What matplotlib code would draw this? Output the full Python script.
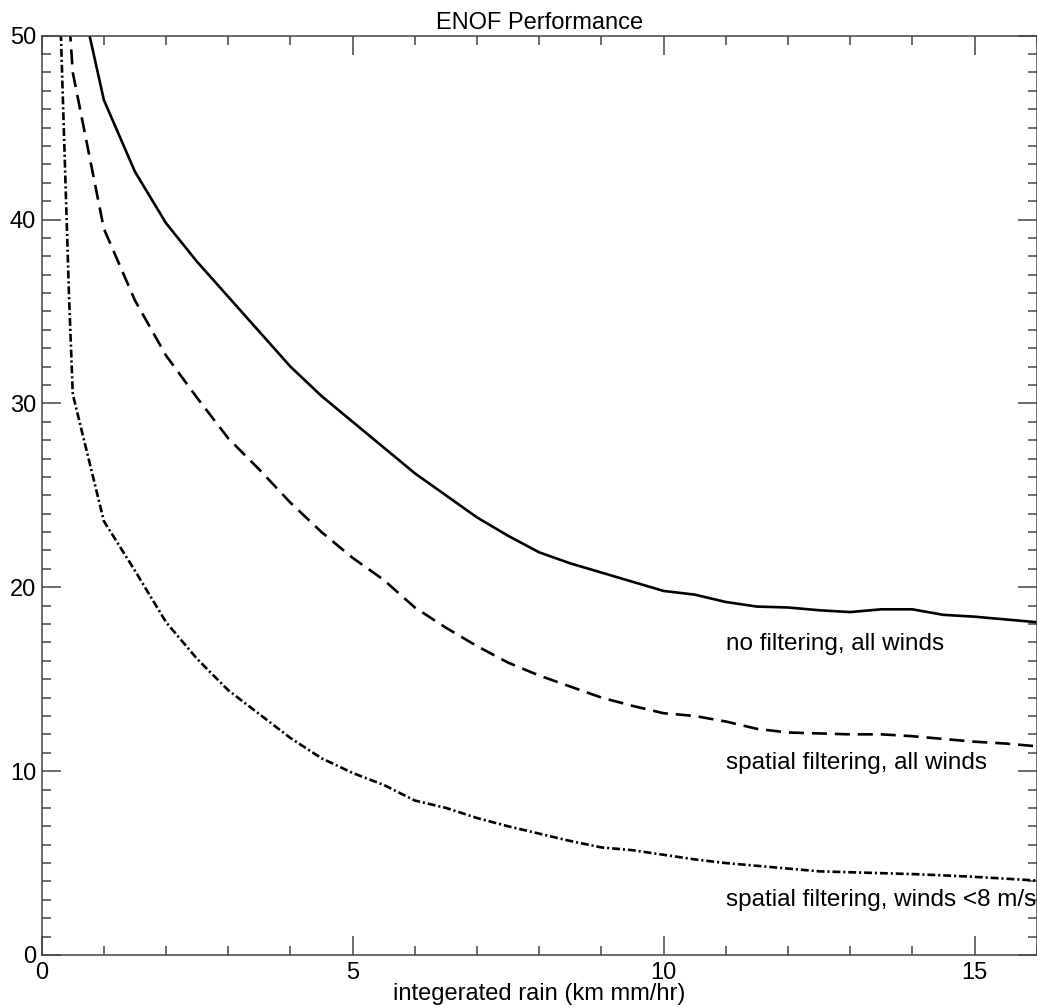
import matplotlib
matplotlib.use("Agg")
import matplotlib.pyplot as plt
from matplotlib.ticker import MultipleLocator

plt.rcParams['font.family'] = ['Liberation Sans', 'DejaVu Sans']

# no filtering, all winds
x_nofilt = [0.77, 1.0, 1.5, 2.0, 2.5, 3.0, 3.5, 4.0, 4.5, 5.0, 5.5, 6.0, 6.5, 7.0, 7.5, 8.0,
            8.5, 9.0, 9.5, 10.0, 10.5, 11.0, 11.5, 12.0, 12.5, 13.0, 13.5, 14.0, 14.5, 15.0, 15.5, 16.0]
y_nofilt = [50.0, 46.5, 42.6, 39.8, 37.7, 35.8, 33.9, 32.0, 30.4, 29.0, 27.6, 26.2, 25.0, 23.8, 22.8, 21.9,
            21.3, 20.8, 20.3, 19.8, 19.6, 19.2, 18.95, 18.9, 18.75, 18.65, 18.8, 18.8, 18.5, 18.4, 18.25, 18.1]

# spatial filtering, all winds
x_spat = [0.45, 0.5, 1.0, 1.5, 2.0, 2.5, 3.0, 3.5, 4.0, 4.5, 5.0, 5.5, 6.0, 6.5, 7.0, 7.5, 8.0,
          8.5, 9.0, 9.5, 10.0, 10.5, 11.0, 11.5, 12.0, 12.5, 13.0, 13.5, 14.0, 14.5, 15.0, 15.5, 16.0]
y_spat = [50.5, 48.0, 39.5, 35.6, 32.6, 30.3, 28.1, 26.4, 24.6, 23.0, 21.6, 20.4, 18.9, 17.8, 16.8, 15.9, 15.2,
          14.6, 14.0, 13.55, 13.15, 13.0, 12.7, 12.3, 12.1, 12.05, 12.0, 12.0, 11.9, 11.75, 11.6, 11.5, 11.35]

# spatial filtering, winds < 8 m/s
x_low = [0.3, 0.44, 0.5, 1.0, 1.5, 2.0, 2.5, 3.0, 3.5, 4.0, 4.5, 5.0, 5.5, 6.0, 6.5, 7.0, 7.5, 8.0,
         8.5, 9.0, 9.5, 10.0, 10.5, 11.0, 11.5, 12.0, 12.5, 13.0, 13.5, 14.0, 14.5, 15.0, 15.5, 16.0]
y_low = [51.0, 35.8, 30.5, 23.6, 20.9, 18.1, 16.1, 14.4, 13.1, 11.8, 10.7, 9.9, 9.25, 8.4, 8.0, 7.45, 7.0, 6.6,
         6.2, 5.85, 5.7, 5.45, 5.2, 5.0, 4.85, 4.7, 4.55, 4.5, 4.45, 4.4, 4.33, 4.25, 4.15, 4.05]

labels = ["no filtering, all winds", "spatial filtering, all winds", "spatial filtering, winds <8 m/s"]
label_y = [16.9, 10.45, 3.0]

fig = plt.figure(figsize=(10.37, 10.08), dpi=100)
ax = fig.add_axes([0.0402, 0.0526, 0.9595, 0.912])

lw = 1.9
ax.plot(x_nofilt, y_nofilt, color='black', lw=lw)
ax.plot(x_spat, y_spat, color='black', lw=lw, dashes=(5.7, 3.0))
ax.plot(x_low, y_low, color='black', lw=lw, dashes=(3.0, 1.1, 0.8, 1.1))

for lab, yy in zip(labels, label_y):
    ax.text(11.0, yy, lab, fontsize=17.5, va='center', ha='left')

ax.set_xlim(0, 16)
ax.set_ylim(0, 50)
ax.xaxis.set_major_locator(MultipleLocator(5))
ax.xaxis.set_minor_locator(MultipleLocator(1))
ax.yaxis.set_major_locator(MultipleLocator(10))
ax.yaxis.set_minor_locator(MultipleLocator(1))
ax.tick_params(which='both', direction='in', top=True, right=True, color='#444444', width=1.1,
               labelsize=17)
ax.tick_params(which='major', length=13.5)
ax.tick_params(which='minor', length=6.3)
ax.tick_params(axis='y', pad=4)
ax.tick_params(axis='x', pad=5)
for s in ax.spines.values():
    s.set_color('#444444')
    s.set_linewidth(1.1)

ax.set_title("ENOF Performance", fontsize=17, pad=5)
ax.set_xlabel("integerated rain (km mm/hr)", fontsize=17, labelpad=-1)

fig.savefig("out.png", dpi=100)
